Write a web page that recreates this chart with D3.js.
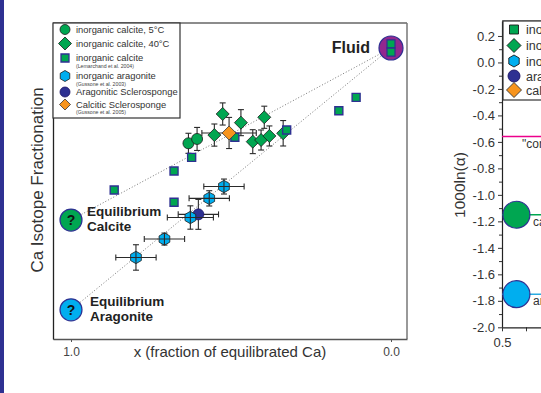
<!DOCTYPE html>
<html>
<head>
<meta charset="utf-8">
<script src="https://cdn.jsdelivr.net/npm/d3@7"></script>
<style>
  body { margin: 0; background: #fff; }
  svg { display: block; font-family: "Liberation Sans", Arial, sans-serif; }
</style>
</head>
<body>
<div id="chart"></div>
<script>
// ---- data (x = fraction of equilibrated Ca, y = Ca isotope fractionation rel. to fluid) ----
var calcite5C = [
  { x: 0.633, y: -0.637, ey: 0.067 },
  { x: 0.606, y: -0.608, ey: 0.077 }
];
var calcite40C = [
  { x: 0.552, y: -0.582, ey: 0.074 },
  { x: 0.526, y: -0.441, ey: 0.074 },
  { x: 0.469, y: -0.499, ey: 0.087 },
  { x: 0.396, y: -0.463, ey: 0.074 },
  { x: 0.432, y: -0.626, ey: 0.080 },
  { x: 0.406, y: -0.615, ey: 0.067 },
  { x: 0.380, y: -0.588, ey: 0.067 },
  { x: 0.337, y: -0.570, ey: 0.085 }
];
var calciteLemarchand = [
  { x: 0.326, y: -0.548 },
  { x: 0.488, y: -0.597 },
  { x: 0.623, y: -0.731 },
  { x: 0.678, y: -0.822 },
  { x: 0.865, y: -0.949 },
  { x: 0.678, y: -1.031 },
  { x: 0.163, y: -0.419 },
  { x: 0.109, y: -0.330 }
];
var fluidSquares = [
  { x: 0.0, y: 0.027 },
  { x: 0.0, y: -0.027 }
];
var aragoniteInorganic = [
  { x: 0.522, y: -0.926, ex: 0.063, ey: 0.050 },
  { x: 0.568, y: -1.005, ex: 0.063, ey: 0.051 },
  { x: 0.627, y: -1.133, ex: 0.072, ey: 0.078 },
  { x: 0.708, y: -1.277, ex: 0.063, ey: 0.040 },
  { x: 0.797, y: -1.400, ex: 0.063, ey: 0.085 }
];
var aragoniticSponge = [
  { x: 0.602, y: -1.112, ex: 0.063, ey: 0.100 }
];
var calciticSponge = [
  { x: 0.506, y: -0.568, ex: 0.085, ey: 0.104 }
];
var fluid = { x: 0.0, y: 0.0 };
var eqCalcite = { x: 1.0, y: -1.15 };
var eqAragonite = { x: 1.0, y: -1.75 };
var xTickValues = [1.0, 0.0];

// right panel (1000 ln alpha)
var rightMajorTicks = [0.2, 0.0, -0.2, -0.4, -0.6, -0.8, -1.0, -1.2, -1.4, -1.6, -1.8, -2.0];
var rightMinorTicks = [0.1, -0.1, -0.3, -0.5, -0.7, -0.9, -1.1, -1.3, -1.5, -1.7, -1.9];
var rightXTicks = [0.5];
var rightXMinor = [0.75];
var coralValue = -0.56;
var calciteEqValue = -1.15;
var aragoniteEqValue = -1.75;
var rightLegend = ["inorganic calcite", "inorganic calcite", "inorganic aragonite", "aragonitic sclerosponge", "calcitic sclerosponge"];

// ---- colours ----
var green = "#00a651", cyan = "#00aeef", navy = "#2e3192", orange = "#f7941d", purple = "#92278f", magenta = "#ec008c";

var svg = d3.select("#chart").append("svg")
  .attr("width", 541)
  .attr("height", 393);

svg.append("rect").attr("x", 0).attr("y", 0).attr("width", 541).attr("height", 393).attr("fill", "#fff");
// blue strip at left edge
svg.append("rect").attr("x", 0).attr("y", 0).attr("width", 4).attr("height", 393).attr("fill", navy);

// marker paths
function diamond(r) { return "M0," + (-r) + "L" + r + ",0L0," + r + "L" + (-r) + ",0Z"; }
function square(s) { return "M" + (-s) + "," + (-s) + "H" + s + "V" + s + "H" + (-s) + "Z"; }
function hexagon(r) {
  var pts = d3.range(6).map(function(i) {
    var a = Math.PI / 180 * (60 * i - 90);
    return [r * Math.cos(a), r * Math.sin(a)];
  });
  return "M" + pts.join("L") + "Z";
}
function circle(r) { return d3.symbol().type(d3.symbolCircle).size(Math.PI * r * r)(); }

// ================= main panel =================
var x = d3.scaleLinear().domain([1.05625, -0.05]).range([53, 407]);
var y = d3.scaleLinear().domain([-1.945, 0.167]).range([339, 23]);

var main = svg.append("g");

// frame
main.append("line").attr("x1", 53).attr("x2", 407).attr("y1", 23).attr("y2", 23).attr("stroke", "#666").attr("stroke-width", 1.3);
main.append("line").attr("x1", 407).attr("x2", 407).attr("y1", 23).attr("y2", 339).attr("stroke", "#777").attr("stroke-width", 1.5);

var xAxis = main.append("g")
  .attr("transform", "translate(0,339)")
  .call(d3.axisBottom(x).tickValues(xTickValues).tickFormat(function(d) { return d.toFixed(1); })
    .tickSize(3).tickSizeOuter(0).tickPadding(5));
xAxis.select(".domain").attr("stroke", "#555").attr("stroke-width", 1.3);
xAxis.selectAll(".tick line").attr("stroke", "#555");
xAxis.selectAll("text").attr("font-size", 12).attr("fill", "#444").attr("font-family", "Liberation Sans, Arial, sans-serif");

var yAxis = main.append("g")
  .attr("transform", "translate(53,0)")
  .call(d3.axisLeft(y).tickValues([]).tickSizeOuter(0));
yAxis.select(".domain").attr("stroke", "#222").attr("stroke-width", 1.3);

main.append("text")
  .attr("x", 230).attr("y", 357)
  .attr("text-anchor", "middle")
  .attr("font-size", 15).attr("fill", "#333")
  .text("x (fraction of equilibrated Ca)");

main.append("text")
  .attr("transform", "translate(43,180) rotate(-90)")
  .attr("text-anchor", "middle")
  .attr("font-size", 17).attr("fill", "#333")
  .text("Ca Isotope Fractionation");

// mixing lines
[eqCalcite, eqAragonite].forEach(function(e) {
  main.append("line")
    .attr("x1", x(e.x)).attr("y1", y(e.y))
    .attr("x2", x(fluid.x)).attr("y2", y(fluid.y))
    .attr("stroke", "#777").attr("stroke-width", 1)
    .attr("stroke-dasharray", "1,2");
});

// error bars
function errorBars(g, data, cap) {
  data.forEach(function(d) {
    var eb = g.append("g").attr("stroke", "#2a2a2a").attr("stroke-width", 1.1);
    if (d.ey) {
      eb.append("line").attr("x1", x(d.x)).attr("x2", x(d.x)).attr("y1", y(d.y - d.ey)).attr("y2", y(d.y + d.ey));
      [d.y - d.ey, d.y + d.ey].forEach(function(v) {
        eb.append("line").attr("x1", x(d.x) - cap).attr("x2", x(d.x) + cap).attr("y1", y(v)).attr("y2", y(v));
      });
    }
    if (d.ex) {
      eb.append("line").attr("y1", y(d.y)).attr("y2", y(d.y)).attr("x1", x(d.x - d.ex)).attr("x2", x(d.x + d.ex));
      [d.x - d.ex, d.x + d.ex].forEach(function(v) {
        eb.append("line").attr("y1", y(d.y) - cap).attr("y2", y(d.y) + cap).attr("x1", x(v)).attr("x2", x(v));
      });
    }
  });
}

function markers(g, data, path, fill, stroke, sw) {
  g.selectAll(null)
    .data(data)
    .enter()
    .append("path")
    .attr("d", path)
    .attr("transform", function(d) { return "translate(" + x(d.x) + "," + y(d.y) + ")"; })
    .attr("fill", fill)
    .attr("stroke", stroke)
    .attr("stroke-width", sw);
}

errorBars(main, calciticSponge, 3);
errorBars(main, calcite40C, 3);
markers(main, calcite40C, diamond(6.5), green, "#1a1a1a", 0.8);
errorBars(main, calcite5C, 3);
markers(main, calcite5C, circle(5.5), green, "#1a1a1a", 0.8);
markers(main, calciteLemarchand, square(4), green, navy, 1.4);
errorBars(main, aragoniticSponge, 3);
markers(main, aragoniticSponge, circle(5.5), navy, "#1b1464", 0.8);
markers(main, aragoniteInorganic, hexagon(6.2), cyan, "#1a1a1a", 0.8);
errorBars(main, aragoniteInorganic, 3);
markers(main, calciticSponge, diamond(7), orange, "#333", 0.8);

// end members
main.append("circle").attr("cx", x(fluid.x)).attr("cy", y(fluid.y)).attr("r", 12)
  .attr("fill", purple).attr("stroke", navy).attr("stroke-width", 1.2);
markers(main, fluidSquares, square(4), green, navy, 1.2);
main.append("text").attr("x", 370).attr("y", 53).attr("text-anchor", "end")
  .attr("font-size", 16).attr("font-weight", "bold").attr("fill", "#222").text("Fluid");

[[eqCalcite, green, "Equilibrium", "Calcite", 87], [eqAragonite, cyan, "Equilibrium", "Aragonite", 90]].forEach(function(e) {
  var cx = x(e[0].x), cy = y(e[0].y);
  main.append("circle").attr("cx", cx).attr("cy", cy).attr("r", 11)
    .attr("fill", e[1]).attr("stroke", navy).attr("stroke-width", 1.2);
  main.append("text").attr("x", cx).attr("y", cy + 5).attr("text-anchor", "middle")
    .attr("font-size", 14).attr("font-weight", "bold").attr("fill", "#111").text("?");
  main.append("text").attr("x", e[4]).attr("y", cy - 4)
    .attr("font-size", 13.5).attr("font-weight", "bold").attr("fill", "#222").text(e[2]);
  main.append("text").attr("x", e[4]).attr("y", cy + 11)
    .attr("font-size", 13.5).attr("font-weight", "bold").attr("fill", "#222").text(e[3]);
});

// legend (main)
var leg = main.append("g");
leg.append("rect").attr("x", 53).attr("y", 23).attr("width", 127).attr("height", 95)
  .attr("fill", "#fff").attr("stroke", "#333").attr("stroke-width", 1.2);
var legItems = [
  { y: 29.5, path: circle(5), fill: green, stroke: "#1a1a1a", label: "inorganic calcite, 5°C" },
  { y: 43.5, path: diamond(6.5), fill: green, stroke: "#1a1a1a", label: "inorganic calcite, 40°C" },
  { y: 58, path: square(4), fill: green, stroke: navy, label: "inorganic calcite", note: "(Lemarchand et al. 2004)" },
  { y: 76, path: hexagon(5.5), fill: cyan, stroke: "#1a1a1a", label: "inorganic aragonite", note: "(Gussone et al. 2003)" },
  { y: 92, path: circle(5), fill: navy, stroke: "#1b1464", label: "Aragonitic Sclerosponge" },
  { y: 104.5, path: diamond(5.5), fill: orange, stroke: "#333", label: "Calcitic Sclerosponge", note: "(Gussone et al. 2005)" }
];
legItems.forEach(function(it) {
  leg.append("path").attr("d", it.path).attr("transform", "translate(65," + it.y + ")")
    .attr("fill", it.fill).attr("stroke", it.stroke).attr("stroke-width", it.stroke === navy ? 1.3 : 0.8);
  leg.append("text").attr("x", 76).attr("y", it.y + 3.3).attr("font-size", 9.4).attr("fill", "#333").text(it.label);
  if (it.note) {
    leg.append("text").attr("x", 76).attr("y", it.y + 9.5).attr("font-size", 5.2).attr("fill", "#444").text(it.note);
  }
});

// ================= right panel =================
var xr = d3.scaleLinear().domain([0.5, 1.0]).range([502, 550]);
var yr = d3.scaleLinear().domain([-2.0, 0.313]).range([327.3, 21]);
var right = svg.append("g");

right.append("line").attr("x1", 502).attr("x2", 541).attr("y1", 21).attr("y2", 21).attr("stroke", "#444").attr("stroke-width", 1.2);

var ryMinor = right.append("g").attr("transform", "translate(502,0)")
  .call(d3.axisLeft(yr).tickValues(rightMinorTicks).tickSize(3).tickFormat(""));
ryMinor.select(".domain").remove();
var ry = right.append("g").attr("transform", "translate(502,0)")
  .call(d3.axisLeft(yr).tickValues(rightMajorTicks).tickSize(4).tickSizeOuter(0).tickPadding(3)
    .tickFormat(function(d) { return d.toFixed(1); }));
ry.select(".domain").attr("stroke", "#222").attr("stroke-width", 1.2);
ry.selectAll("text").attr("font-size", 13).attr("fill", "#333").attr("font-family", "Liberation Sans, Arial, sans-serif");
right.selectAll(".tick line").attr("stroke", "#333");

var rxMinor = right.append("g").attr("transform", "translate(0,327.3)")
  .call(d3.axisBottom(xr).tickValues(rightXMinor).tickSize(4).tickFormat(""));
rxMinor.select(".domain").remove();
var rx = right.append("g").attr("transform", "translate(0,327.3)")
  .call(d3.axisBottom(xr).tickValues(rightXTicks).tickSize(4).tickSizeOuter(0).tickPadding(6)
    .tickFormat(function(d) { return d.toFixed(1); }));
rx.select(".domain").attr("stroke", "#222").attr("stroke-width", 1.2);
rx.selectAll("text").attr("font-size", 13).attr("fill", "#333").attr("font-family", "Liberation Sans, Arial, sans-serif");
right.selectAll(".tick line").attr("stroke", "#333");

right.append("text")
  .attr("transform", "translate(465,185) rotate(-90)")
  .attr("text-anchor", "middle")
  .attr("font-size", 15.5).attr("fill", "#333")
  .text("1000ln(α)");

// reference lines
right.append("line").attr("x1", 502).attr("x2", 541).attr("y1", yr(coralValue)).attr("y2", yr(coralValue))
  .attr("stroke", magenta).attr("stroke-width", 1.5);
right.append("text").attr("x", 522).attr("y", yr(coralValue) + 11).attr("font-size", 12).attr("fill", "#333").text("\"coral\"");

[[calciteEqValue, green, "calcite"], [aragoniteEqValue, "#29abe2", "aragonite"]].forEach(function(r) {
  right.append("line").attr("x1", 502).attr("x2", 541).attr("y1", yr(r[0])).attr("y2", yr(r[0]))
    .attr("stroke", r[1]).attr("stroke-width", 1.5);
  right.append("circle").attr("cx", xr(0.65)).attr("cy", yr(r[0])).attr("r", 13.5)
    .attr("fill", r[1] === green ? green : cyan).attr("stroke", navy).attr("stroke-width", 1.2);
  right.append("text").attr("x", 533).attr("y", yr(r[0]) + 11).attr("font-size", 12).attr("fill", "#333").text(r[2]);
});

// right legend
var rleg = right.append("g");
rleg.append("rect").attr("x", 503).attr("y", 21).attr("width", 60).attr("height", 79)
  .attr("fill", "#fff").attr("stroke", "#333").attr("stroke-width", 1.2);
var rShapes = [
  [square(4.5), green, "#1a1a1a"],
  [diamond(7), green, "#1a1a1a"],
  [hexagon(6), cyan, "#1a1a1a"],
  [circle(6), navy, "#1b1464"],
  [diamond(7.5), orange, "#333"]
];
var rY = [29.5, 45.5, 61, 76, 90];
rShapes.forEach(function(s, i) {
  rleg.append("path").attr("d", s[0]).attr("transform", "translate(514," + rY[i] + ")")
    .attr("fill", s[1]).attr("stroke", s[2]).attr("stroke-width", 0.9);
  rleg.append("text").attr("x", 526).attr("y", rY[i] + 4.5).attr("font-size", 12.5).attr("fill", "#333").text(rightLegend[i]);
});
</script>
</body>
</html>
